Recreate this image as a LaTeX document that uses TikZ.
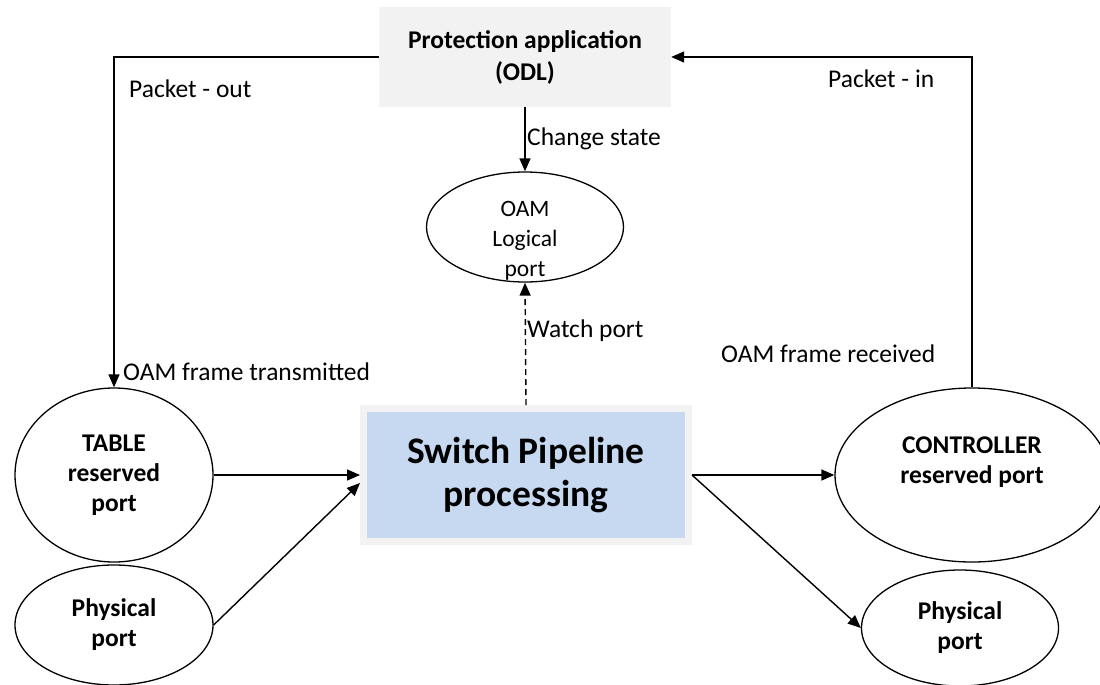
\documentclass[tikz,border=0pt]{standalone}
\usepackage{fontspec}
\setmainfont{Carlito}
\usetikzlibrary{arrows.meta,shapes.geometric}
\definecolor{boxgray}{HTML}{F2F2F2}
\definecolor{pipeblue}{HTML}{C6D9F1}
\tikzset{
  lbl/.style={font=\fontsize{25.5}{30}\selectfont, inner sep=0pt, anchor=base west},
  port/.style={ellipse, draw, line width=1.3pt, inner sep=0pt, align=center,
    font=\fontsize{25.5}{30}\selectfont\bfseries},
  conn/.style={line width=1.4pt, -{Triangle[length=13pt,width=11pt]}},
}
\begin{document}
\begin{tikzpicture}[x=1pt, y=-1pt]
\useasboundingbox (0,0) rectangle (1100,685);

% controller application
\node[fill=boxgray, minimum width=292pt, minimum height=100pt, inner sep=0pt,
      align=center, font=\fontsize{25.5}{32}\selectfont\bfseries]
  (prot) at (525,57) {Protection application\\(ODL)};

% logical port driven by the application
\node[ellipse, draw, line width=1.3pt, minimum width=197pt, minimum height=110pt,
      inner sep=0pt,
      label={[align=center, font=\fontsize{23.5}{30}\selectfont, yshift=-14pt]center:OAM\\Logical\\port}]
  (oam) at (525,227) {};

% switch pipeline
\node[fill=pipeblue, draw=boxgray, line width=7pt, minimum width=325pt,
      minimum height=133pt, inner sep=0pt, align=center,
      font=\fontsize{37.5}{43}\selectfont\bfseries]
  (sw) at (526,475) {Switch Pipeline\\processing};

% ports
\node[port, minimum width=198pt, minimum height=174pt] (table) at (114,475)
  {TABLE\\reserved\\port};
\node[port, minimum width=198pt, minimum height=120pt] (lphys) at (114,625)
  {Physical\\port};
\node[port, minimum width=274pt, minimum height=174pt] (ctrl) at (972,475)
  {CONTROLLER\\reserved port\\\mbox{}};
\node[port, minimum width=197pt, minimum height=116pt] (rphys) at (960,628)
  {Physical\\port};

% packet out / packet in loops
\draw[conn] (prot.west) -| (table.north);
\draw[conn] (ctrl.north) |- (prot.east);

% state change and watch
\draw[conn] (prot.south) -- (oam.north);
\draw[conn, dash pattern=on 6pt off 4pt] (sw.north) -- (oam.south);

% pipeline inputs and outputs
\draw[conn] (table.east) -- (sw.west);
\draw[conn] (lphys.east) -- ([yshift=-8pt]sw.west);
\draw[conn] (sw.east) -- (ctrl.west);
\draw[conn] (sw.east) -- (rphys.west);

% labels
\node[lbl] (lpo) at (129,97) {Packet - out};
\node[lbl] (lpi) at (828,87) {Packet - in};
\node[lbl] (lcs) at (527,145) {Change state};
\node[lbl] (lwp) at (527,337) {Watch port};
\node[lbl] (lot) at (123,380) {OAM frame transmitted};
\node[lbl] (lor) at (721,362) {OAM frame received};
\end{tikzpicture}
\end{document}
